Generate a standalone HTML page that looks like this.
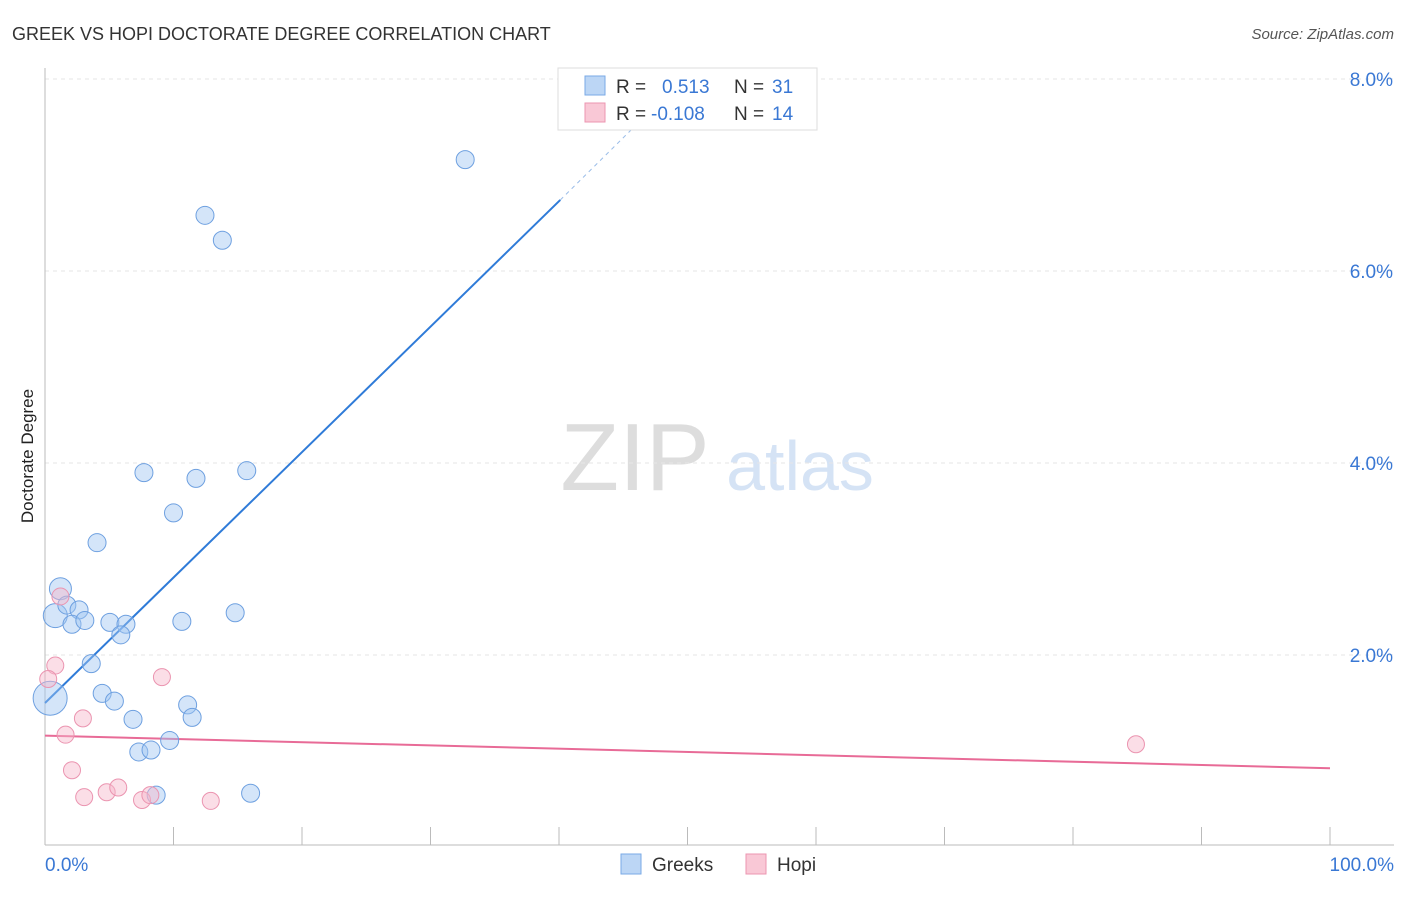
<!DOCTYPE html>
<html><head><meta charset="utf-8"><style>
body{margin:0;background:#fff;font-family:"Liberation Sans",sans-serif;}
svg text{font-family:"Liberation Sans",sans-serif;}
</style></head><body>
<svg id="chart" width="1406" height="892" viewBox="0 0 1406 892">
<text x="12" y="40" font-size="18" fill="#333">GREEK VS HOPI DOCTORATE DEGREE CORRELATION CHART</text>
<text x="1394" y="39" font-size="15" fill="#555" font-style="italic" text-anchor="end">Source: ZipAtlas.com</text>
<text transform="translate(33,456) rotate(-90)" font-size="17" fill="#222" text-anchor="middle">Doctorate Degree</text>
<g>
<text x="635" y="490" font-size="96" fill="#ddd" font-family="Liberation Serif" text-anchor="middle">ZIP</text>
<text x="800" y="490" font-size="70" fill="#d5e3f5" text-anchor="middle">atlas</text>
</g>
<g id="grid"></g><g id="axes"></g><g id="lines"></g><g id="pts"></g>
<g>
<rect x="558" y="68" width="259" height="62" fill="#fff" stroke="#ddd"/>
<rect x="585" y="76" width="20" height="19" fill="#bcd6f5" stroke="#7aaae6"/>
<rect x="585" y="103" width="20" height="19" fill="#f9c8d6" stroke="#ec96b0"/>
<text x="616" y="93" font-size="19" fill="#333">R = </text><text x="662" y="93" font-size="19" fill="#3a78d4">0.513</text>
<text x="734" y="93" font-size="19" fill="#333">N = </text><text x="772" y="93" font-size="19" fill="#3a78d4">31</text>
<text x="616" y="120" font-size="19" fill="#333">R = </text><text x="651" y="120" font-size="19" fill="#3a78d4">-0.108</text>
<text x="734" y="120" font-size="19" fill="#333">N = </text><text x="772" y="120" font-size="19" fill="#3a78d4">14</text>
</g>
<g>
<rect x="621" y="854" width="20" height="20" fill="#bcd6f5" stroke="#7aaae6"/>
<text x="652" y="871" font-size="19" fill="#333">Greeks</text>
<rect x="746" y="854" width="20" height="20" fill="#f9c8d6" stroke="#ec96b0"/>
<text x="777" y="871" font-size="19" fill="#333">Hopi</text>
</g>
</svg>
<script>
const yTicks=[2,4,6,8];
const yTickLabels=["2.0%","4.0%","6.0%","8.0%"];
const xTickLabels=["0.0%","100.0%"];
const greekX=[32.7,12.45,13.8,7.7,11.75,15.7,10.0,4.05,1.2,0.8,1.7,2.65,2.1,3.1,5.05,6.3,5.9,10.65,14.8,3.6,4.45,5.4,0.4,6.85,11.1,11.45,7.3,8.25,9.7,8.65,16.0];
const greekY=[7.16,6.58,6.32,3.9,3.84,3.92,3.48,3.17,2.69,2.41,2.52,2.47,2.32,2.36,2.34,2.32,2.21,2.35,2.44,1.91,1.6,1.52,1.55,1.33,1.48,1.35,0.99,1.01,1.11,0.54,0.56];
const greekR=[9,9,9,9,9,9,9,9,11,12,9,9,9,9,9,9,9,9,9,9,9,9,17,9,9,9,9,9,9,9,9];
const hopiX=[1.2,0.8,0.25,9.1,2.95,1.6,2.1,3.05,4.8,5.7,7.55,8.2,12.9,84.9];
const hopiY=[2.61,1.89,1.75,1.77,1.34,1.17,0.8,0.52,0.57,0.62,0.49,0.54,0.48,1.07];
const greekTrend=[1.5,6.74,8.05]; const greekTrendX=[0,40.1,50];
const hopiTrend=[1.16,0.82];
const NS="http://www.w3.org/2000/svg";
const X=v=>45+v/100*1285, Y=v=>847-v*96;
function mk(p,t,a){const e=document.createElementNS(NS,t);for(const k in a)e.setAttribute(k,a[k]);document.getElementById(p).appendChild(e);return e;}
yTicks.forEach((t,i)=>{
 const g=mk('grid','line',{x1:45,x2:1394,y1:Y(t),y2:Y(t),stroke:'#e6e6e6','stroke-dasharray':'4,4'});
 
 
 const l=mk('axes','text',{x:1393,y:Y(t)+7,'font-size':19,fill:'#3a78d4','text-anchor':'end'});l.textContent=yTickLabels[i];
 
 
});
const ax=mk('axes','line',{x1:45,x2:1394,y1:845,y2:845,stroke:'#bbb'});


const ay=mk('axes','line',{x1:45,x2:45,y1:68,y2:845,stroke:'#bbb'});


for(let i=1;i<=10;i++){const t=mk('axes','line',{x1:X(i*10),x2:X(i*10),y1:827,y2:845,stroke:'#bbb'});
 
 }
[[0,'start',45],[100,'end',1394]].forEach((d,i)=>{const l=mk('axes','text',{x:d[2],y:871,'font-size':19,fill:'#3a78d4','text-anchor':d[1]});l.textContent=xTickLabels[i];
 
 });
let gl=mk('lines','line',{x1:X(greekTrendX[0]),y1:Y(greekTrend[0]),x2:X(greekTrendX[1]),y2:Y(greekTrend[1]),stroke:'#2f7bd8','stroke-width':2});


let gd=mk('lines','line',{x1:X(greekTrendX[1]),y1:Y(greekTrend[1]),x2:X(greekTrendX[2]),y2:Y(greekTrend[2]),stroke:'#9bbde8','stroke-width':1,'stroke-dasharray':'4,4'});


let hl=mk('lines','line',{x1:X(0),y1:Y(hopiTrend[0]),x2:X(100),y2:Y(hopiTrend[1]),stroke:'#e86b97','stroke-width':2});


greekX.forEach((x,i)=>{const c=mk('pts','circle',{cx:X(x),cy:Y(greekY[i]),r:greekR[i],fill:'rgba(160,198,242,0.45)',stroke:'#6ea0e0','stroke-width':1});
 
 });
hopiX.forEach((x,i)=>{const c=mk('pts','circle',{cx:X(x),cy:Y(hopiY[i]),r:8.5,fill:'rgba(246,182,202,0.45)',stroke:'#eb94b0','stroke-width':1});
 
 });
</script>
</body></html>
